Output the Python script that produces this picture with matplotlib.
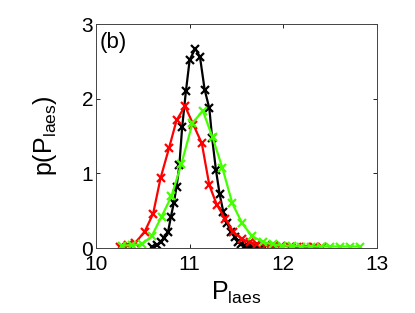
import matplotlib
matplotlib.use("Agg")
import matplotlib.pyplot as plt

plt.rcParams['font.family'] = ['Liberation Sans', 'DejaVu Sans']
plt.rcParams['mathtext.fontset'] = 'custom'
plt.rcParams['mathtext.rm'] = 'Liberation Sans'
plt.rcParams['mathtext.it'] = 'Liberation Sans'

# data
black_x = [10.60, 10.65, 10.69, 10.73, 10.77, 10.80, 10.83, 10.86, 10.89, 10.92,
           10.96, 11.00, 11.06, 11.11, 11.16, 11.21, 11.24, 11.28, 11.32, 11.36,
           11.40, 11.44, 11.48, 11.52, 11.55, 11.59, 11.63, 11.67, 11.71, 11.75, 11.79]
black_y = [0.02, 0.04, 0.08, 0.13, 0.22, 0.42, 0.60, 0.82, 1.11, 1.62,
           2.10, 2.52, 2.67, 2.56, 2.12, 1.87, 1.47, 1.05, 0.72, 0.48,
           0.33, 0.22, 0.15, 0.08, 0.05, 0.03, 0.02, 0.01, 0.01, 0.01, 0.01]

red_x = [10.26, 10.34, 10.42, 10.52, 10.61, 10.69, 10.78, 10.86, 10.95, 11.04,
         11.13, 11.21, 11.29, 11.38, 11.465, 11.555, 11.64, 11.72, 11.81, 11.90,
         11.98, 12.07, 12.15, 12.24, 12.33, 12.41]
red_y = [0.02, 0.04, 0.07, 0.22, 0.46, 0.94, 1.34, 1.71, 1.90, 1.65,
         1.40, 0.84, 0.58, 0.39, 0.22, 0.12, 0.08, 0.05, 0.04, 0.03,
         0.03, 0.02, 0.02, 0.02, 0.02, 0.01]

green_x = [10.28, 10.385, 10.49, 10.595, 10.70, 10.805, 10.91, 11.03, 11.14, 11.245,
           11.35, 11.455, 11.56, 11.665, 11.78, 11.89, 11.99, 12.09, 12.19, 12.30,
           12.40, 12.50, 12.61, 12.71, 12.82]
green_y = [0.03, 0.04, 0.05, 0.16, 0.42, 0.69, 1.12, 1.67, 1.84, 1.48,
           1.07, 0.60, 0.33, 0.16, 0.08, 0.05, 0.03, 0.03, 0.02, 0.02,
           0.02, 0.02, 0.02, 0.02, 0.02]

xticks = [10, 11, 12, 13]
yticks = [0, 1, 2, 3]

fig = plt.figure(figsize=(4.15, 3.13), dpi=100)
ax = fig.add_axes([96/415, 65/313, 281/415, 224/313])

style = dict(marker='x', markersize=6, markeredgewidth=1.6, linewidth=1.6)
ax.plot(black_x, black_y, color='black', **style)
ax.plot(red_x, red_y, color='#ff0000', **style)
ax.plot(green_x, green_y, color='#44ff00', **style)

ax.set_xlim(10, 13)
ax.set_ylim(0, 3)
ax.set_xticks(xticks)
ax.set_yticks(yticks)
ax.tick_params(direction='in', length=3, width=0.6, labelsize=15, pad=2,
               top=True, right=True, colors='black')
ax.tick_params(axis='x', pad=5)
for s in ax.spines.values():
    s.set_linewidth(0.7)
    s.set_color('#444444')

ax.text(0.012, 0.965, '(b)', transform=ax.transAxes, fontsize=16,
        ha='left', va='top')
ax.set_xlabel(r'$\mathregular{P_{laes}}$', fontsize=18, labelpad=4)
ax.set_ylabel(r'$\mathregular{p(P_{laes})}$', fontsize=18, labelpad=16)

fig.savefig('out.png', dpi=100, facecolor='white')
